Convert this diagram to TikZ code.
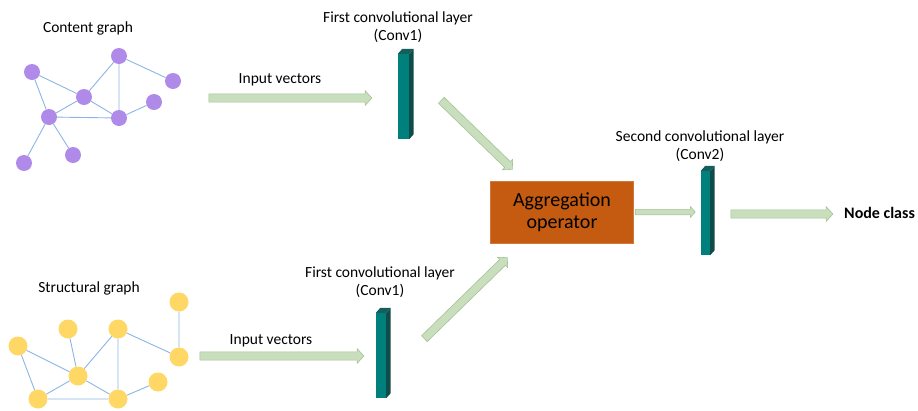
\documentclass[tikz,border=0pt]{standalone}
\usepackage{fontspec}
\setmainfont{Carlito}
\usetikzlibrary{shapes.arrows,calc,backgrounds}
\definecolor{purp}{RGB}{176,138,232}
\definecolor{yell}{RGB}{255,215,100}
\definecolor{edgeblue}{RGB}{140,180,228}
\definecolor{arrowfill}{RGB}{200,222,188}
\definecolor{arrowborder}{RGB}{165,195,150}
\definecolor{aggfill}{RGB}{197,90,17}
\definecolor{aggborder}{RGB}{210,120,60}
\definecolor{convfront}{RGB}{0,128,125}
\definecolor{convside}{RGB}{15,75,72}
\definecolor{convtop}{RGB}{20,95,92}
\tikzset{
  pnode/.style={circle, fill=purp, minimum size=16pt, inner sep=0pt},
  ynode/.style={circle, fill=yell, minimum size=19pt, inner sep=0pt},
  gedge/.style={draw=edgeblue, line width=0.9pt},
  lbl/.style={font=\fontsize{15.5}{18.5}\selectfont, align=center, inner sep=0pt},
  fatarr/.style={single arrow, draw=arrowborder, fill=arrowfill, line width=0.6pt,
    inner xsep=0pt, inner ysep=3.8pt, single arrow head extend=3.2pt,
    single arrow tip angle=95},
  thinarr/.style={fatarr, inner ysep=2.4pt, single arrow head extend=2.6pt},
  cfront/.style={rectangle, fill=convfront, inner sep=0pt},
}
\newcommand\fatarrow[4]{% style, name, from, to
  \path let \p1=($(#4)-(#3)$), \n1={veclen(\x1,\y1)}, \n2={atan2(\y1,\x1)} in
    node[#1, minimum height=\n1, rotate=\n2] (#2) at ($(#3)!0.5!(#4)$) {};}
\newcommand\convblock[1]{%
  \fill[convside] (#1.north east) -- ($(#1.north east)+(4.5,-5)$) -- ($(#1.south east)+(4.5,-5)$) -- (#1.south east) -- cycle;
  \fill[convtop] (#1.north west) -- ($(#1.north west)+(4.5,-5)$) -- ($(#1.north east)+(4.5,-5)$) -- (#1.north east) -- cycle;}
\begin{document}
\begin{tikzpicture}[x=1pt,y=-1pt]
\useasboundingbox (0,0) rectangle (918,410);
% content graph
\node[lbl] (ctitle) at (88,28) {Content graph};
\node[pnode] (ca) at (32,72) {};
\node[pnode] (cb) at (84,97) {};
\node[pnode] (cc) at (119,56) {};
\node[pnode] (cd) at (173,81) {};
\node[pnode] (ce) at (154,102) {};
\node[pnode] (cf) at (119,118) {};
\node[pnode] (cg) at (49,117) {};
\node[pnode] (ch) at (73,155) {};
\node[pnode] (ci) at (24,163) {};
\begin{scope}[on background layer]
\draw[gedge] (ca)--(cb) (cb)--(cc) (cc)--(cd) (cc)--(cf) (cb)--(cf) (cf)--(ce)
  (cb)--(cg) (cg)--(cf) (ca)--(cg) (cg)--(ci) (cg)--(ch);
\end{scope}
% structural graph
\node[lbl] (stitle) at (89,288) {Structural graph};
\node[ynode] (sa) at (179,302) {};
\node[ynode] (sb) at (179,357) {};
\node[ynode] (sc) at (68,329) {};
\node[ynode] (sd) at (118,329) {};
\node[ynode] (se) at (18,346) {};
\node[ynode] (sf) at (78,376) {};
\node[ynode] (sg) at (158,382) {};
\node[ynode] (sh) at (38,399) {};
\node[ynode] (si) at (118,399) {};
\begin{scope}[on background layer]
\draw[gedge] (sa)--(sb) (sd)--(sb) (sc)--(sf) (sd)--(sf) (se)--(sf) (se)--(sh)
  (sf)--(sh) (sf)--(si) (sd)--(si) (si)--(sg) (sh)--(si);
\end{scope}
% conv blocks
\node[cfront, minimum width=11pt, minimum height=85pt] (conv1t) at (403.5,96.5) {};
\convblock{conv1t}
\node[cfront, minimum width=10pt, minimum height=85pt] (conv1b) at (381,355.5) {};
\convblock{conv1b}
\node[cfront, minimum width=9pt, minimum height=84pt] (conv2) at (705.5,213) {};
\convblock{conv2}
% labels
\node[lbl] (l1t) at (398,27) {First convolutional layer\\(Conv1)};
\node[lbl] (l1b) at (380,282) {First convolutional layer\\(Conv1)};
\node[lbl] (l2) at (700,146) {Second convolutional layer\\(Conv2)};
\node[lbl] (ivt) at (280,80) {Input vectors};
\node[lbl] (ivb) at (271,341) {Input vectors};
% aggregation
\node[rectangle, fill=aggfill, draw=aggborder, line width=0.5pt, minimum width=143pt,
  minimum height=62pt, align=center, font=\fontsize{20}{22}\selectfont,
  inner sep=0pt] (agg) at (562,212.5) {Aggregation\\operator};
\node[anchor=west, inner sep=0pt, font=\fontsize{16}{18}\selectfont\bfseries] (nc) at (844,213) {Node class};
% arrow endpoints
\coordinate (a1s) at (207,98);  \coordinate (a1e) at (370,98);
\coordinate (a2s) at (198,356); \coordinate (a2e) at (362,356);
\coordinate (d1s) at (440,99);  \coordinate (d1e) at (511,168);
\coordinate (d2s) at (423,340); \coordinate (d2e) at (506,259);
\coordinate (a3s) at (634,212); \coordinate (a3e) at (694,212);
\coordinate (a4s) at (729,214); \coordinate (a4e) at (831,214);
\fatarrow{fatarr}{arrin1}{a1s}{a1e}
\fatarrow{fatarr}{arrin2}{a2s}{a2e}
\fatarrow{fatarr}{arrd1}{d1s}{d1e}
\fatarrow{fatarr}{arrd2}{d2s}{d2e}
\fatarrow{thinarr}{arragg}{a3s}{a3e}
\fatarrow{fatarr}{arrout}{a4s}{a4e}
\end{tikzpicture}
\end{document}
